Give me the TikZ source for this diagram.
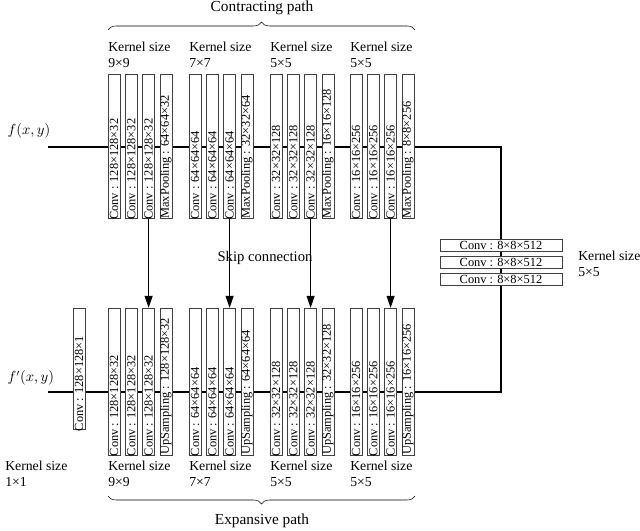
\documentclass[tikz,border=0pt]{standalone}
\usepackage{fontspec}
\setmainfont{Liberation Serif}
\usetikzlibrary{decorations.pathreplacing,arrows.meta}
\begin{document}
\begin{tikzpicture}[x=0.75pt,y=-0.75pt,
  blk/.style={draw=black!75,fill=white,line width=0.5pt,minimum width=9pt,inner sep=0pt},
  lab/.style={rotate=90,anchor=west,font=\fontsize{9.3}{10}\selectfont,inner sep=1pt},
  ks/.style={anchor=north west,align=left,font=\fontsize{10.3}{11.5}\selectfont,inner sep=0pt},
  ln/.style={line width=0.9pt},
  arr/.style={line width=0.9pt,-{Triangle[length=9pt,width=6pt]}}]
\useasboundingbox (0,0) rectangle (640,531);
\coordinate (in) at (48,147);
\coordinate (c1) at (501,147);
\coordinate (c2) at (501,392);
\coordinate (out) at (48,392);
\draw[ln] (in) -- (c1) -- (c2) -- (out);
\node[font=\fontsize{10.5}{11}\selectfont,anchor=west] (f) at (3,131) {$f(x,y)$};
\node[font=\fontsize{10.5}{11}\selectfont,anchor=west] (fp) at (3,378) {$f'(x,y)$};
\foreach \g/\x/\a/\b/\c/\d/\u in {1/108/128×128×32/64×64×32/128×128×32/128×128×32/128×128×32,
                            2/189/64×64×64/32×32×64/64×64×64/64×64×64/64×64×64,
                            3/270/32×32×128/16×16×128/32×32×128/32×32×128/32×32×128,
                            4/350/16×16×256/8×8×256/16×16×256/16×16×256/16×16×256}{
  \foreach \i in {1,2,3,4}{
    \pgfmathsetmacro{\xx}{\x+(\i-1)*17.3+6}
    \node[blk,minimum height=108pt] (t\g-\i) at (\xx,146.5) {};
    \node[blk,minimum height=110pt] (b\g-\i) at (\xx,381.5) {};
  }
  \foreach \i in {1,2,3}{
    \node[lab] at ([yshift=-2pt]t\g-\i.south) {Conv : \a};
    \node[lab] at ([yshift=-2pt]b\g-\i.south) {Conv : \c};
  }
  \node[lab] at ([yshift=-1pt]t\g-4.south) {MaxPooling : \b};
  \node[lab] at ([yshift=-1pt]b\g-4.south) {UpSampling : \u};
  \draw[arr] (t\g-3.south) -- (b\g-3.north);
  \node[ks] (kt\g) at (\x,42) {Kernel size\\\ifcase\g\or 9×9\or 7×7\or 5×5\or 5×5\fi};
  \node[ks] (kb\g) at (\x,461) {Kernel size\\\ifcase\g\or 9×9\or 7×7\or 5×5\or 5×5\fi};
}
\node[blk,minimum height=91pt] (b0) at (79,369) {};
\node[lab] at ([yshift=-2pt]b0.south) {Conv : 128×128×1};
\node[ks] (kb0) at (5,461) {Kernel size\\1×1};
\foreach \i/\y in {1/245.5,2/262.5,3/279.5}{
  \node[blk,minimum width=91.5pt,minimum height=8.5pt,font=\fontsize{9.3}{10}\selectfont] (m\i) at (501,\y) {Conv : 8×8×512};
}
\node[ks] (km) at (578,251) {Kernel size\\5×5};
\node[font=\fontsize{11}{12}\selectfont] (skip) at (265,258) {Skip connection};
\draw[decorate,decoration={brace,amplitude=6pt},line width=0.4pt] (108,30) -- (415,30);
\node[font=\fontsize{11.5}{12}\selectfont] (cp) at (262,8) {Contracting path};
\draw[decorate,decoration={brace,amplitude=6pt,mirror},line width=0.4pt] (108,496) -- (415,496);
\node[font=\fontsize{11.5}{12}\selectfont] (ep) at (262,521) {Expansive path};
\end{tikzpicture}
\end{document}
